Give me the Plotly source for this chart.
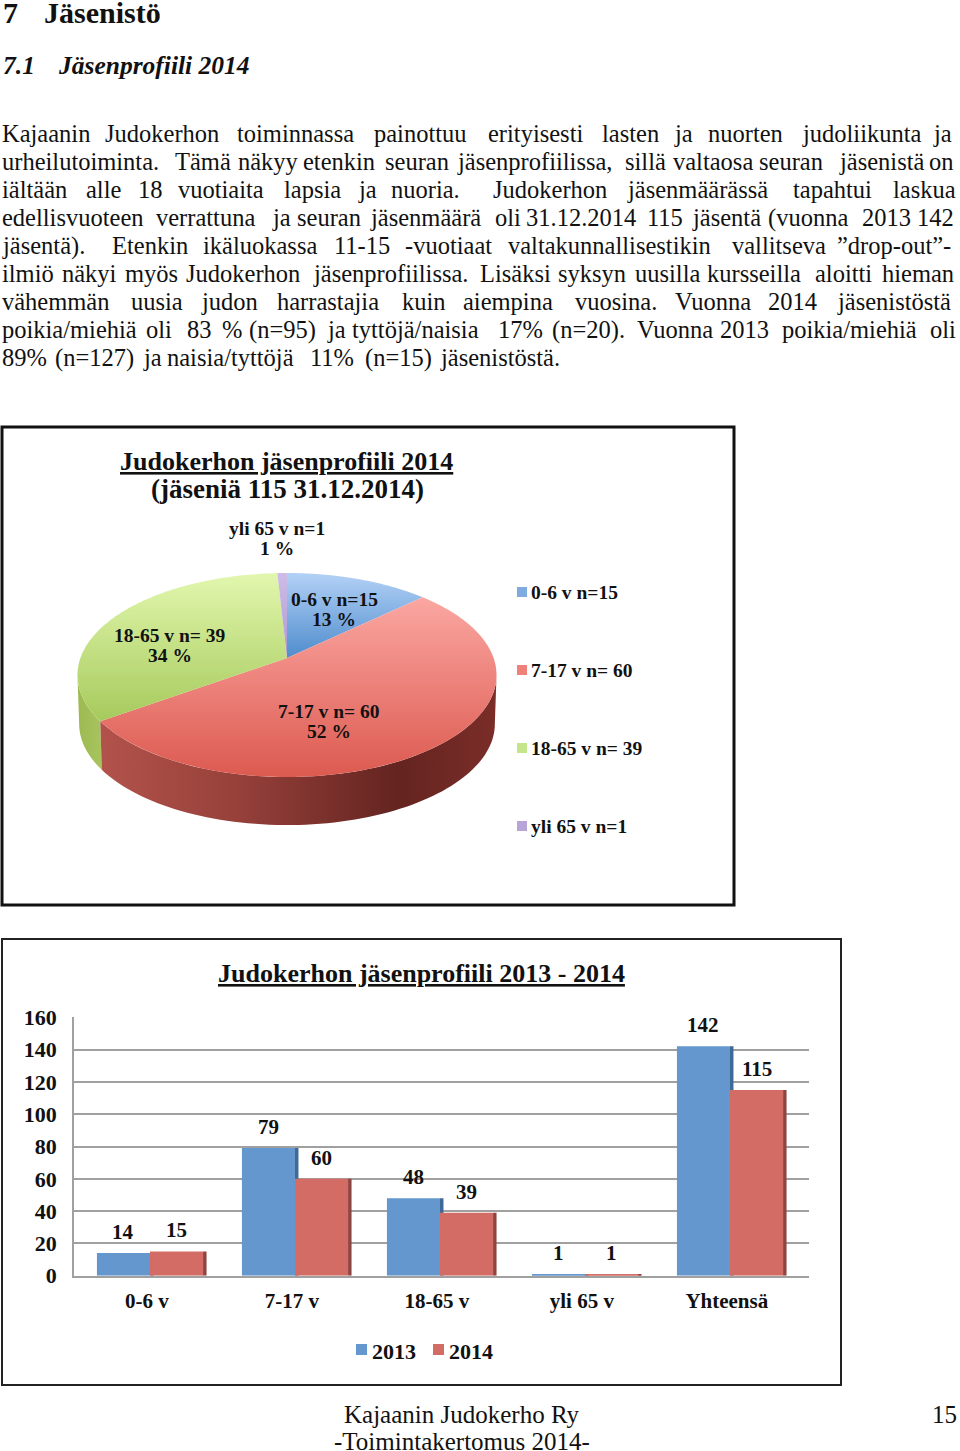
import math
import plotly.graph_objects as go

# ---------- data ----------
bar_categories = ["0-6 v", "7-17 v", "18-65 v", "yli 65 v", "Yhteensä"]
values_2013 = [14, 79, 48, 1, 142]
values_2014 = [15, 60, 39, 1, 115]
y_ticks = [0, 20, 40, 60, 80, 100, 120, 140, 160]

pie_labels = ["0-6 v n=15", "7-17 v n= 60", "18-65 v n= 39", "yli 65 v n=1"]
pie_counts = [15, 60, 39, 1]

body_lines = [
    "Kajaanin Judokerhon toiminnassa painottuu erityisesti lasten ja nuorten judoliikunta ja",
    "urheilutoiminta. Tämä näkyy etenkin seuran jäsenprofiilissa, sillä valtaosa seuran jäsenistä on",
    "iältään alle 18 vuotiaita lapsia ja nuoria. Judokerhon jäsenmäärässä tapahtui laskua",
    "edellisvuoteen verrattuna ja seuran jäsenmäärä oli 31.12.2014 115 jäsentä (vuonna 2013 142",
    "jäsentä). Etenkin ikäluokassa 11-15 -vuotiaat valtakunnallisestikin vallitseva ”drop-out”-",
    "ilmiö näkyi myös Judokerhon jäsenprofiilissa. Lisäksi syksyn uusilla kursseilla aloitti hieman",
    "vähemmän uusia judon harrastajia kuin aiempina vuosina. Vuonna 2014 jäsenistöstä",
    "poikia/miehiä oli 83 % (n=95) ja tyttöjä/naisia 17% (n=20). Vuonna 2013 poikia/miehiä oli",
    "89% (n=127) ja naisia/tyttöjä 11% (n=15) jäsenistöstä.",
]

# ---------- layout constants ----------
W, H = 960, 1451
SERIF = "Liberation Serif"
INK = "#111111"
word_x = [
    [1, 104, 236, 373, 487, 601, 673, 707, 801, 932],
    [1, 174, 237, 302, 384, 456, 624, 672, 758, 838, 928],
    [1, 85, 137, 177, 283, 357, 390, 492, 626, 792, 892],
    [1, 155, 271, 296, 369, 494, 525, 646, 691, 767, 861, 916],
    [1, 111, 202, 333, 404, 507, 731, 836],
    [1, 61, 124, 185, 312, 479, 557, 634, 706, 814, 881],
    [1, 130, 200, 276, 401, 462, 574, 674, 767, 836],
    [1, 145, 186, 221, 248, 326, 351, 497, 551, 636, 719, 781, 929],
    [1, 54, 142, 166, 309, 364, 439],
]
line_y = [133.5, 161.5, 189.5, 217.5, 245.5, 273.5, 301.5, 329.5, 357.5]
BODY_SIZE = 24.5

# perspective projection of the pie's circle
CX, APEX_Y, A, B, K = 287, 658, 206.6, 99.17, 1 / 6
DEPTH = 49


def proj(theta, drop=0.0, scale=1.0):
    u, v = math.sin(theta), math.cos(theta)
    d = 1 + K * v
    return CX + scale * A * u / d, APEX_Y - scale * B * v / d + drop


def arc(t0, t1, drop=0.0, scale=1.0, n=80):
    pts = [proj(t0 + (t1 - t0) * i / n, drop, scale) for i in range(n + 1)]
    return [p[0] for p in pts], [p[1] for p in pts]


fig = go.Figure()

# pie geometry comes from the counts
top_grad = [["#b3d1f6", "#4f8ccd"], ["#fba7a2", "#dc5a50"],
            ["#e2f7ae", "#a6ca5c"], ["#cdbde6", "#ad98d2"]]
rim_grad = {
    1: [[0, "#b2534b"], [0.35, "#96403a"], [0.75, "#642420"], [1, "#7b2d28"]],
    2: [[0, "#9db952"], [1, "#a8c45e"]],
}
total = sum(pie_counts)
edges = [0.0]
for c in pie_counts:
    edges.append(edges[-1] + c / total * 2 * math.pi)
right_t = math.acos(-K)
left_t = 2 * math.pi - right_t
for i in (2, 1):
    t0, t1 = max(edges[i], right_t), min(edges[i + 1], left_t)
    ax, ay = arc(t0, t1)
    bx, by = arc(t0, t1, DEPTH, 0.992)
    fig.add_trace(go.Scatter(
        x=ax + bx[::-1], y=ay + by[::-1], fill="toself", mode="none",
        fillgradient=dict(type="horizontal", colorscale=rim_grad[i]),
        showlegend=False, hoverinfo="skip", xaxis="x", yaxis="y"))
for i in range(len(pie_counts)):
    ax, ay = arc(edges[i], edges[i + 1], n=120)
    fig.add_trace(go.Scatter(
        x=[CX] + ax + [CX], y=[APEX_Y] + ay + [APEX_Y], fill="toself", mode="none",
        fillgradient=dict(type="vertical",
                          colorscale=[[0, top_grad[i][1]], [1, top_grad[i][0]]]),
        showlegend=False, hoverinfo="skip", xaxis="x", yaxis="y"))

# bars: a dark side strip behind each front face
BW = 0.366
STRIP = 0.024
xs = list(range(len(bar_categories)))
for name, vals, off, col, show in [
    ("2013 side", values_2013, 0, "#3f6a97", False),
    ("2014 side", values_2014, BW, "#8e4440", False),
    ("2013", values_2013, -BW, "#6497cd", True),
    ("2014", values_2014, 0, "#d36c65", True),
]:
    fig.add_trace(go.Bar(
        x=xs, y=vals, width=STRIP if "side" in name else BW, offset=off,
        marker=dict(color=col, line=dict(width=0)), name=name,
        showlegend=False, xaxis="x2", yaxis="y2", hoverinfo="skip"))

ann = []


def text(x, y, s, size=17, bold=True, anchor="center", **font):
    ann.append(dict(x=x, y=y, xref="x", yref="y", text=s, showarrow=False,
                    xanchor=anchor, yanchor="middle", borderpad=0,
                    font=dict(family=SERIF, size=size, color=INK,
                              weight="bold" if bold else "normal", **font)))


# page text
text(2, 12, "7", 30, anchor="left")
text(43, 12, "Jäsenistö", 30, anchor="left")
text(2, 65.5, "7.1", 25.5, anchor="left", style="italic")
text(57, 65.5, "Jäsenprofiili 2014", 25.5, anchor="left", style="italic")
for line, xpos, y in zip(body_lines, word_x, line_y):
    for w, x in zip(line.split(" "), xpos):
        text(x, y, w, BODY_SIZE, bold=False, anchor="left")

# pie chart texts
text(286, 461, "Judokerhon jäsenprofiili 2014", 26, lineposition="under")
text(287, 489, "(jäseniä 115 31.12.2014)", 27)
pie_label_pos = [(334, 609), (329, 721), (170, 645), (277, 538)]
legend_y = [592, 670, 748, 826]
legend_col = ["#7fabe0", "#f0807a", "#c5e58c", "#b7a5d8"]
for lab, c, (x, y) in zip(pie_labels, pie_counts, pie_label_pos):
    pct = round(c / total * 100)
    text(x, y - 10, lab, 19.5)
    text(x, y + 10, f"{pct} %", 19.5)
shapes = []
for lab, y, col in zip(pie_labels, legend_y, legend_col):
    text(530, y, lab, 19.5, anchor="left")
    shapes.append(dict(type="rect", xref="x", yref="y", x0=517, x1=527, y0=y - 5, y1=y + 5,
                       line=dict(width=0), fillcolor=col, layer="above"))

# bar chart texts
text(421, 973, "Judokerhon jäsenprofiili 2013 - 2014", 26, lineposition="under")
for i in xs:
    for val, dx in ((values_2013[i], -BW / 2), (values_2014[i], BW / 2)):
        ann.append(dict(x=i + dx, y=val, xref="x2", yref="y2", text=str(val), showarrow=False,
                        yshift=21, xanchor="center", yanchor="middle", borderpad=0,
                        font=dict(family=SERIF, size=21, color=INK, weight="bold")))
text(394, 1351, "2013", 22)
text(471, 1351, "2014", 22)
shapes.append(dict(type="rect", xref="x", yref="y", x0=356, x1=367, y0=1344, y1=1355,
                   line=dict(width=0), fillcolor="#6497cd"))
shapes.append(dict(type="rect", xref="x", yref="y", x0=433, x1=444, y0=1344, y1=1355,
                   line=dict(width=0), fillcolor="#d36c65"))

# footer
text(462, 1414, "Kajaanin Judokerho Ry", 25, bold=False)
text(462, 1441, "-Toimintakertomus 2014-", 25, bold=False)
text(944, 1414, "15", 25, bold=False)

# chart frames
shapes.append(dict(type="rect", xref="x", yref="y", x0=2, x1=734, y0=427, y1=905,
                   line=dict(color="#111111", width=3), layer="below"))
shapes.append(dict(type="rect", xref="x", yref="y", x0=2, x1=841, y0=939, y1=1385,
                   line=dict(color="#222222", width=2), layer="below"))

PLOT_L, PLOT_R, PLOT_T, PLOT_B = 74, 809, 1017.3, 1275.7
fig.update_layout(
    width=W, height=H, autosize=False,
    margin=dict(l=0, r=0, t=0, b=0, autoexpand=False),
    paper_bgcolor="white", plot_bgcolor="rgba(0,0,0,0)", barmode="overlay",
    showlegend=False, annotations=ann, shapes=shapes,
    xaxis=dict(range=[0, W], domain=[0, 1], visible=False, fixedrange=True),
    yaxis=dict(range=[H, 0], domain=[0, 1], visible=False, fixedrange=True),
    xaxis2=dict(domain=[PLOT_L / W, PLOT_R / W], anchor="y2",
                range=[(PLOT_L - 150) / 145, (PLOT_R - 150) / 145],
                tickvals=[i - 0.022 for i in xs], ticktext=bar_categories, ticks="",
                tickfont=dict(family=SERIF, size=21, color=INK, weight="bold"),
                ticklabelstandoff=5, showgrid=False, zeroline=False,
                showline=True, linecolor="#a0a0a0", linewidth=2, fixedrange=True),
    yaxis2=dict(domain=[1 - PLOT_B / H, 1 - PLOT_T / H], anchor="x2", range=[0, 160],
                tickvals=y_ticks, ticks="", ticklabelstandoff=11,
                tickfont=dict(family=SERIF, size=22, color=INK, weight="bold"),
                showgrid=True, gridcolor="#a0a0a0", gridwidth=1.8, zeroline=False,
                showline=True, linecolor="#a0a0a0", linewidth=1.8, fixedrange=True),
)
fig.write_html("out.html", post_script="document.body.style.margin='0';",
               config=dict(displayModeBar=False))
